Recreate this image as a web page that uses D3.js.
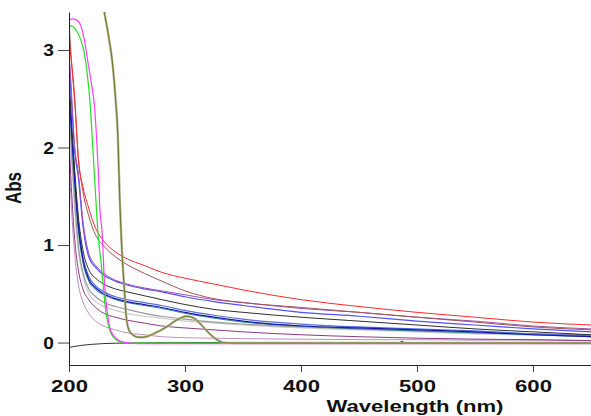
<!DOCTYPE html>
<html>
<head>
<meta charset="utf-8">
<script src="https://cdn.jsdelivr.net/npm/d3@7"></script>
<style>
  html, body { margin: 0; padding: 0; background: #fff; }
  svg text { font-family: "Liberation Sans", Arial, sans-serif; font-weight: bold; fill: #111; }
</style>
</head>
<body>
<div id="chart"></div>
<script>
// wavelengths shared by the scattering-type spectra
const wlScatter = [200, 202, 205, 208, 212, 217, 223, 230, 240, 250, 265, 280, 300, 325, 350, 400, 450, 500, 550, 600, 650];

const redAbs = [3.1, 2.9, 2.5, 1.9, 1.6, 1.38, 1.17, 1.04, 0.93, 0.86, 0.79, 0.72, 0.66, 0.6, 0.54, 0.44, 0.37, 0.31, 0.26, 0.21, 0.18];
const brownAbs = [3.3, 2.9, 2.45, 1.9, 1.55, 1.3, 1.1, 0.99, 0.88, 0.8, 0.71, 0.63, 0.53, 0.45, 0.41, 0.36, 0.31, 0.26, 0.21, 0.16, 0.13];
const purpleHiAbs = [3.0, 2.6, 2.0, 1.75, 1.25, 0.92, 0.79, 0.71, 0.64, 0.6, 0.56, 0.53, 0.49, 0.44, 0.41, 0.35, 0.31, 0.26, 0.22, 0.17, 0.14];
const blueHiAbs = [2.9, 2.5, 1.95, 1.7, 1.2, 0.88, 0.77, 0.69, 0.63, 0.59, 0.55, 0.52, 0.47, 0.42, 0.38, 0.31, 0.27, 0.22, 0.18, 0.14, 0.11];
const blackAbs = [2.7, 2.3, 1.75, 1.3, 0.95, 0.75, 0.66, 0.6, 0.55, 0.52, 0.48, 0.44, 0.39, 0.34, 0.31, 0.26, 0.22, 0.18, 0.14, 0.11, 0.08];
const blueLoAbs = [2.6, 2.2, 1.65, 1.2, 0.85, 0.65, 0.56, 0.5, 0.45, 0.42, 0.39, 0.36, 0.31, 0.26, 0.22, 0.17, 0.15, 0.13, 0.11, 0.08, 0.06];
const blueLo2Abs = [2.65, 2.25, 1.7, 1.25, 0.88, 0.68, 0.58, 0.52, 0.47, 0.44, 0.41, 0.38, 0.33, 0.28, 0.24, 0.19, 0.16, 0.14, 0.12, 0.09, 0.07];
const tealAbs = [2.55, 2.15, 1.6, 1.15, 0.82, 0.63, 0.54, 0.49, 0.44, 0.41, 0.38, 0.35, 0.3, 0.25, 0.21, 0.17, 0.14, 0.12, 0.1, 0.08, 0.06];
const grayAbs = [2.4, 2.0, 1.45, 1.0, 0.72, 0.55, 0.47, 0.41, 0.37, 0.34, 0.3, 0.27, 0.24, 0.21, 0.19, 0.16, 0.14, 0.12, 0.1, 0.09, 0.08];
const lightGrayAbs = [2.3, 1.9, 1.35, 0.95, 0.68, 0.5, 0.42, 0.37, 0.33, 0.3, 0.27, 0.25, 0.22, 0.2, 0.18, 0.15, 0.13, 0.11, 0.09, 0.075, 0.06];
const purpleLoAbs = [2.1, 1.6, 1.05, 0.75, 0.55, 0.44, 0.36, 0.3, 0.26, 0.23, 0.2, 0.17, 0.15, 0.13, 0.11, 0.08, 0.06, 0.045, 0.035, 0.03, 0.02];
const lilacAbs = [1.9, 1.4, 0.9, 0.6, 0.42, 0.3, 0.22, 0.17, 0.13, 0.1, 0.08, 0.06, 0.05, 0.045, 0.04, 0.035, 0.03, 0.03, 0.025, 0.025, 0.02];

// sharp-edged spectra
const wlGreen = [200, 202, 205, 209, 213, 216, 218.5, 220.5, 223, 225, 228, 230.6, 233.5, 236, 238, 243.5, 250, 300, 400, 500, 650];
const greenAbs = [3.22, 3.25, 3.22, 3.14, 2.98, 2.73, 2.4, 2.0, 1.5, 1.12, 0.78, 0.44, 0.2, 0.1, 0.06, 0.01, -0.005, -0.005, -0.005, -0.005, -0.005];

const wlMagenta = [200, 203, 206, 209, 213, 216, 219, 222, 224, 225.5, 226.5, 228.6, 230.6, 233.5, 236.4, 242, 249, 260, 400, 650];
const magentaAbs = [3.31, 3.32, 3.31, 3.28, 3.12, 2.9, 2.68, 2.42, 2.05, 1.7, 1.4, 1.12, 0.61, 0.27, 0.11, 0.03, 0.0, -0.01, -0.01, -0.01];

const wlOlive = [226, 230.6, 234, 237.8, 240, 242, 243.8, 245, 246.4, 248, 249.3, 252, 256, 260, 264, 268, 272, 278, 284, 290, 295, 301, 307, 312.6, 318, 324, 329, 333, 340, 650];
const oliveAbs = [3.75, 3.38, 3.15, 2.83, 2.52, 2.15, 1.46, 1.1, 0.78, 0.5, 0.27, 0.12, 0.07, 0.055, 0.055, 0.065, 0.085, 0.12, 0.16, 0.21, 0.245, 0.27, 0.255, 0.2, 0.13, 0.06, 0.02, 0.0, -0.005, -0.005];

const wlBase = [200, 210, 220, 230, 250, 280, 350, 485, 487, 489, 650];
const baseAbs = [-0.05, -0.03, -0.018, -0.01, -0.005, -0.002, 0, 0, 0.015, 0, 0.002];

const xTicks = [200, 300, 400, 500, 600];
const yTicks = [0, 1, 2, 3];

const width = 591, height = 416;
const margin = { top: 12, right: 0, bottom: 51, left: 69 };

const svg = d3.select("#chart").append("svg")
  .attr("width", width)
  .attr("height", height);

const x = d3.scaleLinear().domain([200, 650]).range([margin.left, width - margin.right]);
const y = d3.scaleLinear().domain([-0.23, 3.39]).range([height - margin.bottom, margin.top]);

svg.append("clipPath").attr("id", "plot-clip")
  .append("rect")
  .attr("x", margin.left)
  .attr("y", margin.top)
  .attr("width", width - margin.left - margin.right)
  .attr("height", height - margin.top - margin.bottom);

const line = d3.line()
  .x(d => x(d[0]))
  .y(d => y(d[1]))
  .curve(d3.curveMonotoneX);

const zip = (wl, abs) => wl.map((w, i) => [w, abs[i]]);

/* series, drawn back to front */
const series = [
  { pts: zip(wlScatter, lilacAbs), color: "#c090c0", w: 1 },
  { pts: zip(wlScatter, purpleLoAbs), color: "#8a3a8a", w: 1 },
  { pts: zip(wlScatter, lightGrayAbs), color: "#cccccc", w: 1.2 },
  { pts: zip(wlScatter, grayAbs), color: "#999999", w: 1.2 },
  { pts: zip(wlScatter, tealAbs), color: "#3a8f8f", w: 1 },
  { pts: zip(wlScatter, blueLo2Abs), color: "#5a6ee0", w: 1.2 },
  { pts: zip(wlScatter, blueLoAbs), color: "#1515b0", w: 1.2 },
  { pts: zip(wlScatter, blackAbs), color: "#303030", w: 1 },
  { pts: zip(wlScatter, blueHiAbs), color: "#5050ff", w: 1.2 },
  { pts: zip(wlScatter, purpleHiAbs), color: "#a050a8", w: 1 },
  { pts: zip(wlScatter, brownAbs), color: "#a05555", w: 1 },
  { pts: zip(wlScatter, redAbs), color: "#ff2a2a", w: 1 },
  { pts: zip(wlBase, baseAbs), color: "#333333", w: 1 },
  { pts: zip(wlGreen, greenAbs), color: "#22e022", w: 1.2 },
  { pts: zip(wlMagenta, magentaAbs), color: "#ff3cff", w: 1.2 },
  { pts: zip(wlOlive, oliveAbs), color: "#b4b89e", w: 2.4 },
  { pts: zip(wlOlive, oliveAbs), color: "#70731c", w: 1 }
];

const plot = svg.append("g").attr("clip-path", "url(#plot-clip)");

plot.selectAll("path")
  .data(series)
  .enter()
  .append("path")
  .attr("d", d => line(d.pts))
  .attr("fill", "none")
  .attr("stroke", d => d.color)
  .attr("stroke-width", d => d.w)
  .attr("stroke-linejoin", "round");

/* axes */
const xAxis = svg.append("g")
  .attr("transform", `translate(0,${height - margin.bottom})`)
  .call(d3.axisBottom(x).tickValues(xTicks).tickFormat(d3.format("d"))
    .tickSize(7).tickPadding(0).tickSizeOuter(0));

xAxis.select(".domain").attr("stroke", "#222");
xAxis.selectAll(".tick line").attr("stroke", "#444");
xAxis.selectAll(".tick text")
  .attr("y", 27)
  .attr("dy", 0)
  .attr("font-size", 16)
  .attr("transform", "scale(1.38,1)");

const yAxis = svg.append("g")
  .attr("transform", `translate(${margin.left},0)`)
  .call(d3.axisLeft(y).tickValues(yTicks).tickFormat(d3.format("d"))
    .tickSize(11).tickPadding(0).tickSizeOuter(0));

yAxis.select(".domain").attr("stroke", "#222");
yAxis.selectAll(".tick line").attr("stroke", "#444");
yAxis.selectAll(".tick text")
  .attr("x", -15 / 1.2)
  .attr("dy", "0.36em")
  .attr("font-size", 16)
  .attr("transform", "scale(1.2,1)");

svg.selectAll(".tick text").attr("fill", "#111").attr("font-family", null);

/* titles */
svg.append("text")
  .attr("transform", `translate(415,412) scale(1.38,1)`)
  .attr("text-anchor", "middle")
  .attr("font-size", 16)
  .text("Wavelength (nm)");

svg.append("text")
  .attr("transform", `translate(21,188) rotate(-90) scale(1,1.3)`)
  .attr("text-anchor", "middle")
  .attr("font-size", 17)
  .text("Abs");
</script>
</body>
</html>
